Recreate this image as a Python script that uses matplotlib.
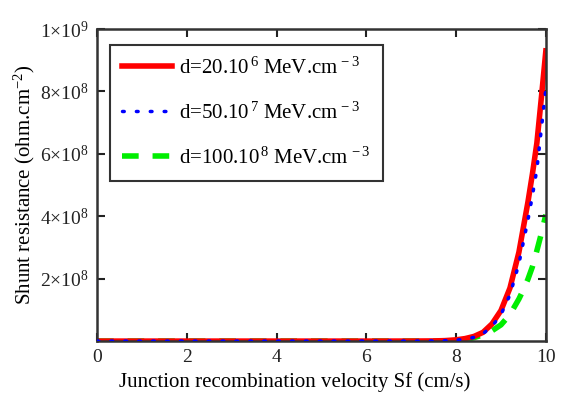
import numpy as np
import matplotlib
matplotlib.use("Agg")
import matplotlib.pyplot as plt

plt.rcParams['mathtext.fontset'] = 'custom'
plt.rcParams['mathtext.rm'] = 'Liberation Serif'
plt.rcParams['mathtext.it'] = 'Liberation Serif:italic'
plt.rcParams['font.family'] = 'Liberation Serif'

# values (shunt resistance, ohm.cm^-2)
sf = [0, 1, 2, 3, 4, 5, 6, 7, 7.5, 7.75, 8, 8.2, 8.4, 8.6, 8.8, 9.0, 9.2, 9.4,
      9.5, 9.6, 9.7, 9.8, 9.9, 10]
rsh_20 = [0, 0, 0, 0, 0, 0, 0, 0.001e8, 0.005e8, 0.015e8, 0.04e8, 0.08e8, 0.15e8, 0.28e8,
          0.55e8, 0.98e8, 1.7e8, 2.85e8, 3.65e8, 4.45e8, 5.35e8, 6.35e8, 7.8e8, 9.3e8]
rsh_50 = [0, 0, 0, 0, 0, 0, 0, 0.001e8, 0.004e8, 0.012e8, 0.03e8, 0.06e8, 0.12e8, 0.24e8,
          0.47e8, 0.85e8, 1.48e8, 2.48e8, 3.18e8, 3.87e8, 4.65e8, 5.5e8, 6.8e8, 8.1e8]
rsh_100 = [0, 0, 0, 0, 0, 0, 0, 0, 0.001e8, 0.002e8, 0.01e8, 0.04e8, 0.11e8, 0.2e8,
           0.33e8, 0.52e8, 0.85e8, 1.35e8, 1.65e8, 1.98e8, 2.38e8, 2.9e8, 3.45e8, 4.05e8]

labels = [r"d=20.10$^{\,6}$ MeV.cm$^{\,-3}$",
          r"d=50.10$^{\,7}$ MeV.cm$^{\,-3}$",
          r"d=100.10$^{\,8}$ MeV.cm$^{\,-3}$"]
yticks = [2e8, 4e8, 6e8, 8e8, 1e9]
ytick_labels = [r"$2{\times}10^{8}$", r"$4{\times}10^{8}$", r"$6{\times}10^{8}$",
                r"$8{\times}10^{8}$", r"$1{\times}10^{9}$"]

fig = plt.figure(figsize=(5.61, 3.98), dpi=100)
ax = fig.add_axes([0.173, 0.143, 0.80, 0.784])

ax.plot(sf, rsh_20, color='#ff0000', lw=4, ls='-', label=labels[0], zorder=2)
ax.plot(sf, rsh_50, color='#0000ff', lw=2.5, ls=(0, (0.5, 3.5)), dash_capstyle='round',
        label=labels[1], zorder=3)
ax.plot(sf, rsh_100, color='#00ee00', lw=4, ls=(0, (3, 2.5)), label=labels[2], zorder=1)

ax.set_xlim(0, 10)
ax.set_ylim(0, 1e9)
ax.set_xticks([0, 2, 4, 6, 8, 10])
ax.set_yticks(yticks)
ax.set_yticklabels(ytick_labels)
ax.tick_params(direction='in', length=6, width=1.5, top=True, right=True,
               labelsize=14, colors='#222222', pad=6)
for s in ax.spines.values():
    s.set_linewidth(1.8)
    s.set_color('#333333')

ax.set_xlabel("Junction recombination velocity Sf (cm/s)", fontsize=15, labelpad=4)
ax.xaxis.set_label_coords(0.44, -0.1)
ax.set_ylabel(r"Shunt resistance (ohm.cm$^{-2}$)", fontsize=15, labelpad=2)

leg = ax.legend(loc='upper left', bbox_to_anchor=(0.028, 0.95), frameon=True,
                fancybox=False, edgecolor='black', handlelength=2.4, handletextpad=0.35,
                labelspacing=1.15, borderpad=0.6, borderaxespad=0,
                prop={'size': 15})
leg.get_frame().set_linewidth(1.5)

fig.savefig("out.png", dpi=100)
